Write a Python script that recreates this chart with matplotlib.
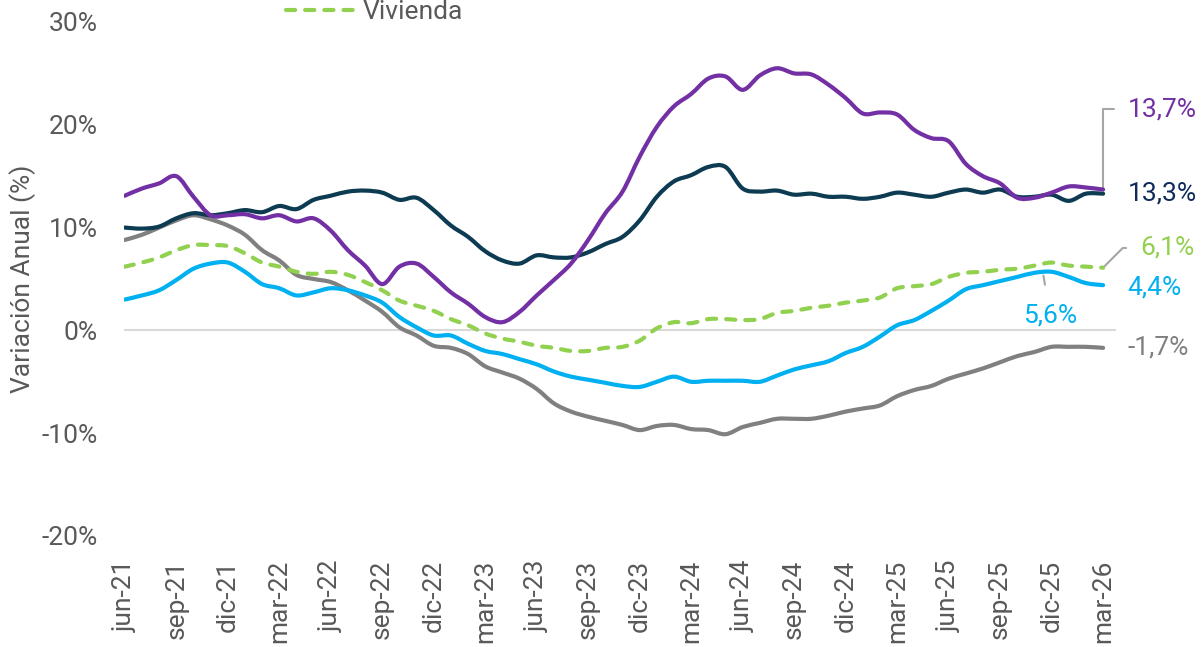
import matplotlib
matplotlib.use("Agg")
import matplotlib.pyplot as plt
from matplotlib.lines import Line2D
from matplotlib.path import Path
from matplotlib.patches import PathPatch

plt.rcParams['font.family'] = ['Roboto', 'DejaVu Sans']

# monthly, jun-21 .. mar-26 (58 points)
nombres = ['ene', 'feb', 'mar', 'abr', 'may', 'jun', 'jul', 'ago', 'sep', 'oct', 'nov', 'dic']
fechas = [f"{nombres[(i + 5) % 12]}-{21 + (i + 5) // 12}" for i in range(58)]

morado = [13.1, 13.8, 14.3, 15.0, 13.0, 11.2, 11.2, 11.3, 10.9, 11.2,
          10.6, 10.9, 9.7, 7.8, 6.3, 4.5, 6.2, 6.5, 5.2, 3.7,
          2.6, 1.3, 0.8, 1.8, 3.4, 4.9, 6.5, 8.8, 11.4, 13.5,
          16.9, 19.8, 21.8, 23.0, 24.5, 24.7, 23.4, 24.8, 25.5, 25.0,
          24.9, 23.9, 22.6, 21.1, 21.2, 21.0, 19.5, 18.7, 18.4, 16.2,
          15.0, 14.3, 12.9, 12.9, 13.4, 14.0, 13.9, 13.7]
azul_osc = [10.0, 9.9, 10.1, 10.9, 11.4, 11.2, 11.4, 11.7, 11.5, 12.1,
            11.8, 12.7, 13.1, 13.5, 13.6, 13.4, 12.7, 12.9, 11.7, 10.2,
            9.1, 7.7, 6.8, 6.5, 7.3, 7.1, 7.1, 7.6, 8.4, 9.1,
            10.7, 13.0, 14.5, 15.1, 15.9, 15.9, 13.8, 13.5, 13.6, 13.2,
            13.3, 13.0, 13.0, 12.8, 13.0, 13.4, 13.2, 13.0, 13.4, 13.7,
            13.4, 13.7, 13.0, 13.0, 13.2, 12.6, 13.3, 13.3]
gris = [8.8, 9.3, 10.0, 10.7, 11.2, 10.8, 10.2, 9.3, 7.8, 6.8,
        5.4, 5.0, 4.7, 3.9, 2.9, 1.8, 0.3, -0.5, -1.5, -1.7,
        -2.3, -3.5, -4.1, -4.7, -5.7, -7.1, -7.9, -8.4, -8.8, -9.2,
        -9.7, -9.3, -9.2, -9.6, -9.7, -10.1, -9.4, -9.0, -8.6, -8.6,
        -8.6, -8.3, -7.9, -7.6, -7.3, -6.4, -5.8, -5.4, -4.7, -4.2,
        -3.7, -3.1, -2.5, -2.1, -1.6, -1.6, -1.6, -1.7]
celeste = [3.0, 3.4, 3.9, 4.9, 6.0, 6.5, 6.6, 5.7, 4.5, 4.1,
           3.4, 3.7, 4.1, 3.9, 3.4, 2.7, 1.3, 0.3, -0.5, -0.5,
           -1.3, -2.0, -2.3, -2.8, -3.3, -4.0, -4.5, -4.8, -5.1, -5.4,
           -5.5, -5.0, -4.5, -5.0, -4.9, -4.9, -4.9, -5.0, -4.4, -3.8,
           -3.4, -3.0, -2.2, -1.6, -0.6, 0.5, 1.0, 1.9, 2.9, 4.0,
           4.4, 4.8, 5.2, 5.6, 5.7, 5.2, 4.6, 4.4]
vivienda = [6.2, 6.6, 7.1, 7.8, 8.3, 8.3, 8.2, 7.5, 6.6, 6.2,
            5.7, 5.5, 5.7, 5.4, 4.7, 3.9, 2.9, 2.4, 1.9, 1.1,
            0.5, -0.3, -0.8, -1.1, -1.5, -1.7, -2.0, -2.0, -1.7, -1.6,
            -1.0, 0.2, 0.8, 0.7, 1.1, 1.1, 1.0, 1.1, 1.7, 1.9,
            2.2, 2.4, 2.7, 2.9, 3.2, 4.1, 4.3, 4.5, 5.2, 5.6,
            5.7, 5.9, 6.0, 6.3, 6.6, 6.3, 6.2, 6.1]

c_morado = "#7330A5"
c_azul = "#0D3B52"
c_gris = "#808080"
c_celeste = "#00B0F0"
c_verde = "#92D050"
c_texto = "#595959"

x = list(range(len(fechas)))


def linea_suave(ax, xs, ys, **kw):
    # smoothed line like Excel: cubic bezier through the data points
    n = len(xs)
    verts = [(xs[0], ys[0])]
    codes = [Path.MOVETO]
    for i in range(n - 1):
        i0 = max(i - 1, 0)
        i3 = min(i + 2, n - 1)
        c1 = (xs[i] + (xs[i + 1] - xs[i0]) / 6, ys[i] + (ys[i + 1] - ys[i0]) / 6)
        c2 = (xs[i + 1] - (xs[i3] - xs[i]) / 6, ys[i + 1] - (ys[i3] - ys[i]) / 6)
        verts += [c1, c2, (xs[i + 1], ys[i + 1])]
        codes += [Path.CURVE4] * 3
    p = PathPatch(Path(verts, codes), fill=False, transform=ax.transData, **kw)
    ax.add_patch(p)
    return p


fig = plt.figure(figsize=(12.01, 6.47), dpi=100)
ax = fig.add_axes([0.1032, 0.1716, 0.826, 0.7944])

ax.axhline(0, color="#D9D9D9", lw=1.5, zorder=1)
linea_suave(ax, x, gris, edgecolor=c_gris, lw=3, zorder=2, joinstyle="round", capstyle="round")
linea_suave(ax, x, celeste, edgecolor=c_celeste, lw=3, zorder=3, joinstyle="round", capstyle="round")
linea_suave(ax, x, vivienda, edgecolor=c_verde, lw=3, zorder=4, linestyle=(0, (2.2, 2.4)),
            capstyle="round")
linea_suave(ax, x, azul_osc, edgecolor=c_azul, lw=3, zorder=5, joinstyle="round", capstyle="round")
linea_suave(ax, x, morado, edgecolor=c_morado, lw=3, zorder=6, joinstyle="round", capstyle="round")

ax.set_ylim(-20, 30)
ax.set_xlim(-0.05, 57.75)
ax.set_yticks(range(-20, 31, 10))
ax.set_yticklabels([f"{v}%" for v in range(-20, 31, 10)])
ax.set_xticks(x[::3])
ax.set_xticklabels(fechas[::3], rotation=90)
ax.tick_params(length=0, labelsize=19, labelcolor=c_texto)
ax.tick_params(axis="y", pad=19)
ax.tick_params(axis="x", pad=17)
for s in ax.spines.values():
    s.set_visible(False)
ax.set_ylabel("Variación Anual (%)", fontsize=19, color=c_texto, labelpad=4)

# end labels
ult = len(x) - 1
fs = 19
H = 647
guia = dict(arrowstyle="-", color="#A6A6A6", lw=1.5, shrinkA=8, shrinkB=0)
ax.annotate("13,7%", xy=(ult, morado[-1]), xytext=(1128, H - 109), textcoords="figure pixels",
            color=c_morado, fontsize=fs, va="center", ha="left",
            arrowprops=dict(guia, connectionstyle="angle,angleA=0,angleB=90,rad=0"))
ax.annotate("13,3%", xy=(ult, azul_osc[-1]), xytext=(1128, H - 193), textcoords="figure pixels",
            color="#0F2B5B", fontsize=fs, va="center", ha="left")
ax.annotate("6,1%", xy=(ult, vivienda[-1]), xytext=(1140, H - 248), textcoords="figure pixels",
            color=c_verde, fontsize=fs, va="center", ha="left",
            arrowprops=dict(guia, connectionstyle="angle,angleA=0,angleB=45,rad=0"))
ax.annotate("4,4%", xy=(ult, celeste[-1]), xytext=(1127, H - 287), textcoords="figure pixels",
            color=c_celeste, fontsize=fs, va="center", ha="left")
ax.annotate("5,6%", xy=(53.5, 5.6), xytext=(1050, H - 316), textcoords="figure pixels",
            color=c_celeste, fontsize=fs, va="center", ha="center",
            arrowprops=dict(guia, shrinkA=12, shrinkB=2))
ax.annotate("-1,7%", xy=(ult, gris[-1]), xytext=(1127, H - 348), textcoords="figure pixels",
            color=c_gris, fontsize=fs, va="center", ha="left")

h_viv = Line2D([], [], color=c_verde, lw=3, dashes=(2.2, 2.4), dash_capstyle="round")
fig.legend(handles=[h_viv], labels=["Vivienda"], loc="center left",
           bbox_to_anchor=(262 / 1201, 1 - 12 / H),
           frameon=False, fontsize=19, handlelength=2.6, handletextpad=0.3,
           labelcolor=c_texto)

fig.savefig("out.png", dpi=100)
